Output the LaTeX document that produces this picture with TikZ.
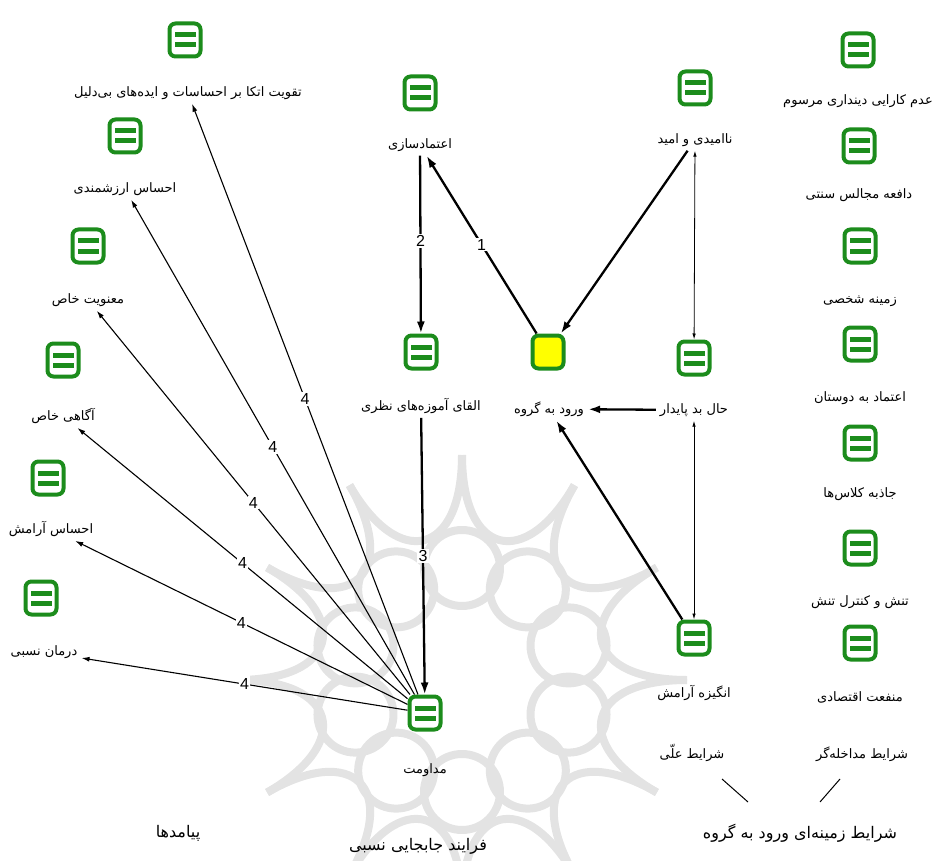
\documentclass[tikz,border=0pt]{standalone}
\usepackage{fontspec}
\setmainfont{Liberation Sans}
\newfontfamily\fa[Script=Arabic]{DejaVu Sans}
\TeXXeTstate=1
\usetikzlibrary{arrows.meta}
\definecolor{icongreen}{RGB}{28,140,28}
\definecolor{nodeyellow}{RGB}{255,255,0}
\newcommand\rtl[1]{\beginR #1\endR}
\tikzset{
  icon/.style={draw=icongreen, line width=4pt, rounded corners=6pt, fill=white,
    minimum width=31pt, minimum height=33pt, inner sep=0pt,
    path picture={
      \fill[icongreen, sharp corners] ([xshift=-10.5pt,yshift=2.5pt]path picture bounding box.center) rectangle ++(21pt,5pt);
      \fill[icongreen, sharp corners] ([xshift=-10.5pt,yshift=-7.5pt]path picture bounding box.center) rectangle ++(21pt,5pt);
    }},
  core/.style={draw=icongreen, line width=4pt, rounded corners=6pt, fill=nodeyellow,
    minimum width=31pt, minimum height=33pt, inner sep=0pt},
  lbl/.style={font=\fa\fontsize{13}{15}\selectfont, inner sep=4pt},
  head/.style={font=\fa\fontsize{16}{18}\selectfont, inner sep=2pt},
  num/.style={fill=white, inner sep=1.2pt, font=\fontsize{16}{17}\selectfont},
  heavy/.style={line width=2.3pt, -{Latex[length=12pt,width=8pt]}},
  outcome/.style={line width=1.1pt, -{Latex[length=8pt,width=5pt]}},
  mutual/.style={line width=0.8pt, {Latex[length=6pt,width=3.5pt]}-{Latex[length=6pt,width=3.5pt]}},
  wm/.style={draw=black!11, line width=8pt}
}
\begin{document}
\begin{tikzpicture}[x=1pt,y=-1pt]
\useasboundingbox (0,0) rectangle (937,861);

% faint ornament in the background
\begin{scope}[shift={(462,680)}, wm]
  \foreach \k in {0,...,11} {
    \draw ({30*\k}:225) .. controls ({30*\k}:125) and ({30*\k+30}:125) .. ({30*\k+30}:225);
  }
  \foreach \k in {0,...,9} {
    \draw ({36*\k+18}:112) circle (38);
  }
\end{scope}
\fill[white] (0,0) rectangle (250,690);

% outcomes
\node[icon] (i1) at (185,40) {};
\node[lbl] (t1) at (188,93) {\rtl{تقویت اتکا بر احساسات و ایده‌های بی‌دلیل}};
\node[icon] (i2) at (125,136) {};
\node[lbl] (t2) at (125,189) {\rtl{احساس ارزشمندی}};
\node[icon] (i3) at (88,246) {};
\node[lbl] (t3) at (88,300) {\rtl{معنویت خاص}};
\node[icon] (i4) at (63,360) {};
\node[lbl] (t4) at (63,416) {\rtl{آگاهی خاص}};
\node[icon] (i5) at (48,478) {};
\node[lbl] (t5) at (51,529) {\rtl{احساس آرامش}};
\node[icon] (i6) at (41,598) {};
\node[lbl] (t6) at (44,652) {\rtl{درمان نسبی}};

% process
\node[icon] (iEtm) at (420,93) {};
\node[lbl] (tEtm) at (420,145) {\rtl{اعتمادسازی}};
\node[icon] (iAlq) at (421,352) {};
\node[lbl] (tAlq) at (421,406) {\rtl{القای آموزه‌های نظری}};
\node[icon] (iMed) at (425,713) {};
\node[lbl] (tMed) at (425,770) {\rtl{مداومت}};

% core category and causal conditions
\node[core] (iVor) at (548,352) {};
\node[lbl] (tVor) at (549,409) {\rtl{ورود به گروه}};
\node[icon] (iNa) at (695,88) {};
\node[lbl] (tNa) at (695,140) {\rtl{ناامیدی و امید}};
\node[icon] (iHal) at (694,358) {};
\node[lbl] (tHal) at (694,410) {\rtl{حال بد پایدار}};
\node[icon] (iAng) at (694,638) {};
\node[lbl] (tAng) at (694,693) {\rtl{انگیزه آرامش}};

% intervening conditions
\node[icon] (r1) at (858,50) {};
\node[lbl] (s1) at (858,101) {\rtl{عدم کارایی دینداری مرسوم}};
\node[icon] (r2) at (859,146) {};
\node[lbl] (s2) at (859,195) {\rtl{دافعه مجالس سنتی}};
\node[icon] (r3) at (860,246) {};
\node[lbl] (s3) at (860,301) {\rtl{زمینه شخصی}};
\node[icon] (r4) at (860,344) {};
\node[lbl] (s4) at (860,398) {\rtl{اعتماد به دوستان}};
\node[icon] (r5) at (860,443) {};
\node[lbl] (s5) at (860,494) {\rtl{جاذبه کلاس‌ها}};
\node[icon] (r6) at (860,548) {};
\node[lbl] (s6) at (860,602) {\rtl{تنش و کنترل تنش}};
\node[icon] (r7) at (860,643) {};
\node[lbl] (s7) at (860,697) {\rtl{منفعت اقتصادی}};

% group headings
\node[lbl] (hCause) at (692,753) {\rtl{شرایط علّی}};
\node[lbl] (hInter) at (862,754) {\rtl{شرایط مداخله‌گر}};
\node[head] (hCtx) at (800,833) {\rtl{شرایط زمینه‌ای ورود به گروه}};
\node[head] (hProc) at (418,846) {\rtl{فرایند جابجایی نسبی}};
\node[head] (hOut) at (178,833) {\rtl{پیامدها}};
\coordinate (cA) at (748,802);
\coordinate (cB) at (820,802);
\draw[line width=1pt] (hCause) ++(30,26) -- (cA);
\draw[line width=1pt] (hInter) ++(-22,25) -- (cB);

% links
\draw[heavy] (iVor) -- (tEtm) node[num,pos=.5] {1};
\draw[heavy] (tEtm) -- (iAlq) node[num,pos=.48] {2};
\draw[heavy] (tAlq) -- (iMed) node[num,pos=.5] {3};
\draw[heavy] (tNa) -- (iVor);
\draw[heavy] (tHal) -- (tVor);
\draw[heavy] (iAng) -- (tVor);
\draw[mutual] (tNa) -- (iHal);
\draw[mutual] (tHal) -- (iAng);
\foreach \t in {t1,t2,t3,t4,t5,t6} {
  \draw[outcome] (iMed) -- (\t) node[num,pos=.5] {4};
}
\end{tikzpicture}
\end{document}
